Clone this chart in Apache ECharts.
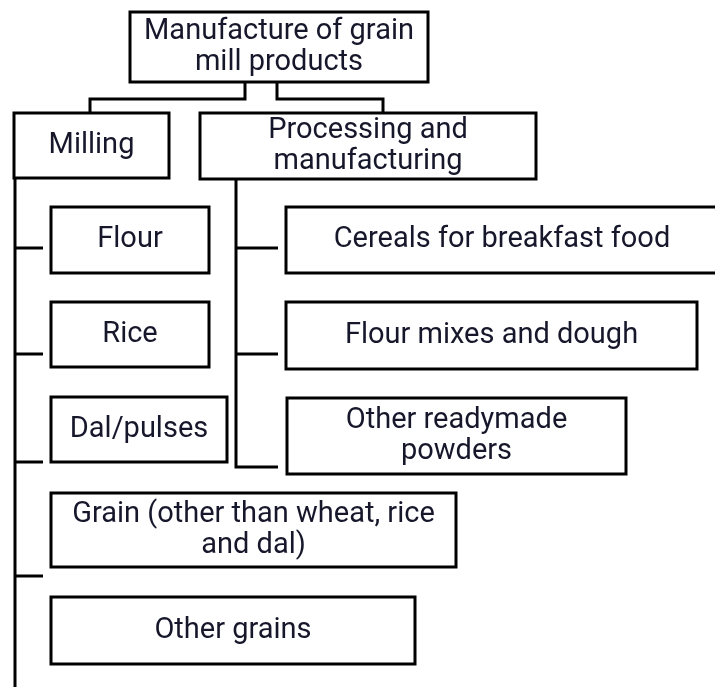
<!DOCTYPE html>
<html>
<head>
<meta charset="utf-8">
<script src="https://cdn.jsdelivr.net/npm/echarts@6/dist/echarts.min.js"></script>
<style>
html,body{margin:0;padding:0;background:#fff;}
#chart{width:715px;height:687px;}
</style>
</head>
<body>
<div id="chart"></div>
<script>
// Node labels
const nodeLabels = [
  "Manufacture of grain\nmill products",
  "Milling",
  "Processing and\nmanufacturing",
  "Flour",
  "Rice",
  "Dal/pulses",
  "Grain (other than wheat, rice\nand dal)",
  "Other grains",
  "Cereals for breakfast food",
  "Flour mixes and dough",
  "Other readymade\npowders"
];
// Box extents in diagram units [x1, y1, x2, y2]
const nodeBoxes = [
  [130, 12, 428, 82],
  [14, 113, 169, 178],
  [200, 113, 536, 179],
  [51, 207, 209, 273],
  [51, 302, 209, 367],
  [51, 397, 227, 462],
  [51, 493, 456, 567],
  [51, 597, 415, 664],
  [286, 207, 718, 273],
  [286, 302, 697, 369],
  [287, 398, 626, 474]
];
// Connector polylines
const connectors = [
  [[245, 82], [245, 99], [90, 99], [90, 113]],
  [[277, 82], [277, 99], [383, 99], [383, 113]],
  [[15, 178], [15, 690]],
  [[15, 248], [43, 248]],
  [[15, 354], [43, 354]],
  [[15, 462], [43, 462]],
  [[15, 576], [43, 576]],
  [[236, 179], [236, 467], [278, 467]],
  [[236, 248], [278, 248]],
  [[236, 354], [278, 354]]
];

const chart = echarts.init(document.getElementById('chart'), null, {renderer: 'canvas'});
const boxData = nodeBoxes.map((b, i) => ({value: b, name: nodeLabels[i]}));

chart.setOption({
  animation: false,
  backgroundColor: '#ffffff',
  grid: {left: 0, right: 0, top: 0, bottom: 0},
  xAxis: {type: 'value', min: 0, max: 715, show: false},
  yAxis: {type: 'value', min: 0, max: 687, inverse: true, show: false},
  series: [
    {
      type: 'lines',
      coordinateSystem: 'cartesian2d',
      polyline: true,
      silent: true,
      lineStyle: {color: '#000', width: 3, opacity: 1},
      data: connectors.map(c => ({coords: c}))
    },
    {
      type: 'custom',
      coordinateSystem: 'cartesian2d',
      silent: true,
      clip: false,
      data: boxData,
      renderItem: function (params, api) {
        const p1 = api.coord([api.value(0), api.value(1)]);
        const p2 = api.coord([api.value(2), api.value(3)]);
        const label = nodeLabels[params.dataIndex];
        return {
          type: 'group',
          children: [
            {
              type: 'rect',
              shape: {x: p1[0], y: p1[1], width: p2[0] - p1[0], height: p2[1] - p1[1]},
              style: {fill: '#fff', stroke: '#000', lineWidth: 3, lineJoin: 'miter'}
            },
            {
              type: 'text',
              style: {
                x: (p1[0] + p2[0]) / 2,
                y: (p1[1] + p2[1]) / 2,
                text: label,
                align: 'center',
                verticalAlign: 'middle',
                fontFamily: 'Roboto',
                fontSize: 29,
                lineHeight: 31,
                fill: '#17172c'
              }
            }
          ]
        };
      }
    }
  ]
});
</script>
</body>
</html>
